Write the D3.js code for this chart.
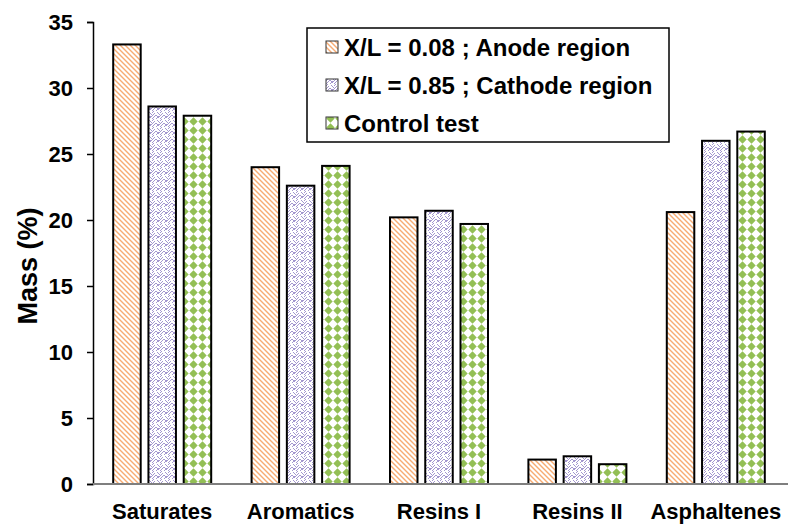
<!doctype html>
<html lang="en">
<head>
	<meta charset="UTF-8">
	<title>Mass fractions</title>
	<script src="https://cdn.jsdelivr.net/npm/d3@7"></script>
	<style>
		body { margin: 0; background: #fff; }
		text { font-family: "Liberation Sans", Arial, sans-serif; font-weight: bold; fill: #000; }
	</style>
</head>
<body>
	<script type="text/javascript">
		var w = 788, h = 525;

		var categories = ["Saturates", "Aromatics", "Resins I", "Resins II", "Asphaltenes"];
		var seriesNames = ["X/L = 0.08 ; Anode region", "X/L = 0.85 ; Cathode region", "Control test"];
		var anode   = [33.3, 24.0, 20.2, 1.85, 20.6];
		var cathode = [28.6, 22.6, 20.7, 2.1, 26.0];
		var control = [27.9, 24.1, 19.7, 1.5, 26.7];
		var yTicks = [0, 5, 10, 15, 20, 25, 30, 35];

		var seriesValues = [anode, cathode, control];
		var patternIds = ["pat-anode", "pat-cathode", "pat-control"];

		var margin = { left: 93, right: 3, top: 22, bottom: 41 };

		var svg = d3.select("body").append("svg")
			.attr("width", w)
			.attr("height", h);

		// fill patterns, roughly like the excel ones
		var defs = svg.append("defs");

		var p1 = defs.append("pattern")
			.attr("id", "pat-anode")
			.attr("patternUnits", "userSpaceOnUse")
			.attr("width", 5).attr("height", 5);
		p1.append("rect").attr("width", 5).attr("height", 5).attr("fill", "#fff");
		p1.append("path")
			.attr("d", "M-1,-1 L6,6 M-1,4 L1,6 M4,-1 L6,1")
			.attr("stroke", "#f7ab72").attr("stroke-width", 1.4);

		// herringbone-ish weave
		var p2 = defs.append("pattern")
			.attr("id", "pat-cathode")
			.attr("patternUnits", "userSpaceOnUse")
			.attr("width", 8).attr("height", 8);
		p2.append("rect").attr("width", 8).attr("height", 8).attr("fill", "#fff");
		p2.append("path")
			.attr("d", "M0,4 L3,1 M1,6 L4,3 L7,6 M4,7 L7,4 L8,5 M5,0 L8,3 M0,0 L1,1 M-1,5 L1,7 L2,8")
			.attr("stroke", "#a497cf").attr("stroke-width", 1).attr("fill", "none");

		var p3 = defs.append("pattern")
			.attr("id", "pat-control")
			.attr("patternUnits", "userSpaceOnUse")
			.attr("width", 9).attr("height", 9);
		p3.append("rect").attr("width", 9).attr("height", 9).attr("fill", "#fff");
		p3.append("path")
			.attr("d", "M4.5,0.3 L8.7,4.5 L4.5,8.7 L0.3,4.5 Z")
			.attr("fill", "#93bf55");

		var x0 = d3.scaleBand()
			.domain(categories)
			.range([margin.left, w - margin.right]);

		var groupW = 98;
		var x1 = d3.scaleBand()
			.domain(d3.range(seriesNames.length))
			.range([0, groupW])
			.paddingInner(0.22);

		var y = d3.scaleLinear()
			.domain([0, 35])
			.range([h - margin.bottom, margin.top]);

		// bars
		var groups = svg.selectAll("g.series")
			.data(seriesValues)
			.enter()
			.append("g")
			.attr("class", "series")
			.attr("fill", function(d, i) { return "url(#" + patternIds[i] + ")"; });

		groups.each(function(vals, si) {
			d3.select(this).selectAll("rect")
				.data(vals)
				.enter()
				.append("rect")
				.attr("x", function(d, i) { return x0(categories[i]) + (x0.bandwidth() - groupW) / 2 + x1(si); })
				.attr("y", function(d) { return y(d); })
				.attr("width", x1.bandwidth())
				.attr("height", function(d) { return y(0) - y(d); })
				.attr("stroke", "#000")
				.attr("stroke-width", 2);
		});

		// y axis
		var yAxis = svg.append("g")
			.attr("transform", "translate(" + margin.left + ",0)")
			.call(d3.axisLeft(y).tickValues(yTicks).tickSize(6).tickPadding(14));
		yAxis.select(".domain").attr("stroke", "#000").attr("stroke-width", 1.5);
		yAxis.selectAll(".tick line").attr("stroke", "#000").attr("stroke-width", 1.5);
		yAxis.selectAll("text").style("font-size", "22px").attr("fill", "#000");

		// x axis
		var xAxis = svg.append("g")
			.attr("transform", "translate(0," + y(0) + ")")
			.call(d3.axisBottom(x0).tickSize(0).tickPadding(19));
		xAxis.select(".domain").attr("stroke", "#7f7f7f").attr("stroke-width", 2)
			.attr("d", "M" + margin.left + ",0H" + w);
		xAxis.selectAll("text").style("font-size", "22px").attr("fill", "#000");

		svg.append("text")
			.attr("transform", "translate(37,266) rotate(-90)")
			.attr("text-anchor", "middle")
			.style("font-size", "27px")
			.text("Mass (%)");

		// legend
		var lg = svg.append("g").attr("transform", "translate(307,28)");
		lg.append("rect")
			.attr("width", 362).attr("height", 114)
			.attr("fill", "#fff").attr("stroke", "#000").attr("stroke-width", 1.5);

		var items = lg.selectAll("g.item")
			.data(seriesNames)
			.enter()
			.append("g")
			.attr("class", "item")
			.attr("transform", function(d, i) { return "translate(19," + (19 + i * 38) + ")"; });
		items.append("rect")
			.attr("x", 0).attr("y", -6)
			.attr("width", 12).attr("height", 12)
			.attr("fill", function(d, i) { return "url(#" + patternIds[i] + ")"; })
			.attr("stroke", "#333").attr("stroke-width", 1);
		items.append("text")
			.attr("x", 18)
			.attr("dy", "0.36em")
			.style("font-size", "24px")
			.text(function(d) { return d; });
	</script>
</body>
</html>
